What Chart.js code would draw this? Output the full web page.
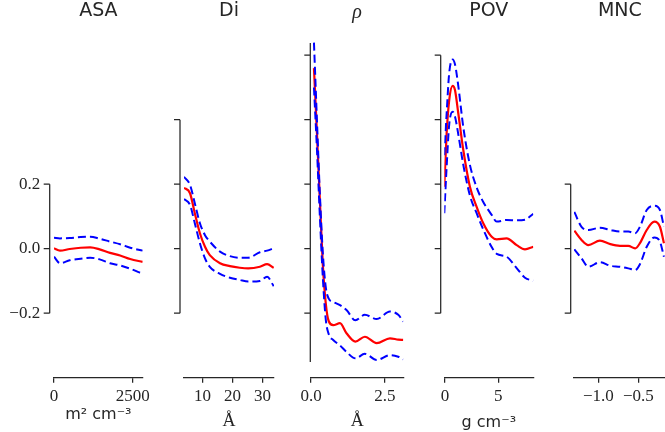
<!DOCTYPE html>
<html>
<head>
<meta charset="utf-8">
<title>Partial dependence</title>
<script src="https://cdn.jsdelivr.net/npm/chart.js@4.4.1/dist/chart.umd.min.js"></script>
<style>
  html, body { margin: 0; padding: 0; background: #fff; }
  #fig { position: relative; width: 665px; height: 432px; overflow: hidden; }
  #fig canvas { position: absolute; top: 0; }
</style>
</head>
<body>
<div id="fig"></div>
<script>
/* ---- data ---- */

// ASA, m2 cm-3
const asaX     = [0, 190, 500, 850, 1150, 1450, 1780, 2100, 2420, 2818];
const asaMean  = [0.001, -0.006, -0.001, 0.003, 0.004, -0.002, -0.013, -0.021, -0.032, -0.041];
const asaUpper = [0.034, 0.032, 0.033, 0.036, 0.037, 0.031, 0.022, 0.014, 0.003, -0.006];
const asaLower = [-0.025, -0.045, -0.036, -0.031, -0.028, -0.033, -0.045, -0.052, -0.062, -0.078];
const asaXTicks = [0, 2500];
const asaXRange = [0, 2818];

// Di, angstrom
const diX     = [3.8, 5.8, 7.4, 9.1, 10.8, 12.4, 15.8, 19.1, 22.4, 25.2, 29.1, 31.5, 33.7];
const diMean  = [0.189, 0.172, 0.110, 0.048, 0.006, -0.020, -0.045, -0.054, -0.059, -0.061, -0.056, -0.048, -0.059];
const diUpper = [0.223, 0.198, 0.141, 0.079, 0.042, 0.022, -0.009, -0.023, -0.028, -0.028, -0.011, -0.006, 0.001];
const diLower = [0.154, 0.136, 0.079, 0.017, -0.030, -0.056, -0.078, -0.090, -0.097, -0.102, -0.100, -0.087, -0.116];
const diXTicks = [10, 20, 30];
const diXRange = [3.8, 33.8];

// rho, angstrom
const rhoX     = [0.1, 0.2, 0.3, 0.4, 0.5, 0.6, 0.75, 0.98, 1.2, 1.5, 1.82, 2.22, 2.67, 2.95, 3.12];
const rhoMean  = [0.56, 0.36, 0.15, -0.05, -0.17, -0.225, -0.237, -0.231, -0.262, -0.288, -0.273, -0.293, -0.278, -0.282, -0.283];
const rhoUpper = [0.639, 0.40, 0.17, -0.014, -0.12, -0.155, -0.165, -0.175, -0.19, -0.222, -0.205, -0.218, -0.195, -0.205, -0.226];
const rhoLower = [0.50, 0.31, 0.10, -0.09, -0.22, -0.265, -0.283, -0.30, -0.32, -0.340, -0.326, -0.345, -0.330, -0.335, -0.343];
const rhoXTicks = [0, 2.5];
const rhoXRange = [0, 3.12];

// POV, g cm-3
const povX     = [-0.06, 0.16, 0.4, 0.72, 0.94, 1.25, 1.72, 2.34, 2.97, 3.59, 4.38, 4.85, 5.78, 6.72, 7.5, 8.28];
const povMean  = [0.192, 0.358, 0.461, 0.505, 0.492, 0.420, 0.306, 0.192, 0.130, 0.079, 0.037, 0.029, 0.032, 0.011, -0.002, 0.006];
const povUpper = [0.29, 0.42, 0.545, 0.587, 0.572, 0.505, 0.377, 0.26, 0.19, 0.145, 0.105, 0.084, 0.089, 0.088, 0.09, 0.108];
const povLower = [0.11, 0.254, 0.385, 0.425, 0.41, 0.355, 0.26, 0.165, 0.110, 0.06, 0.005, -0.016, -0.025, -0.06, -0.09, -0.099];
const povXTicks = [0, 5];
const povXRange = [-0.06, 8.28];

// MNC
const mncX     = [-1.30, -1.21, -1.125, -0.98, -0.85, -0.73, -0.625, -0.54, -0.48, -0.395, -0.30, -0.23, -0.18];
const mncMean  = [0.056, 0.027, 0.011, 0.025, 0.014, 0.009, 0.009, 0.001, 0.017, 0.058, 0.084, 0.068, 0.017];
const mncUpper = [0.114, 0.068, 0.058, 0.065, 0.058, 0.053, 0.053, 0.048, 0.068, 0.120, 0.133, 0.120, 0.068];
const mncLower = [-0.002, -0.030, -0.056, -0.042, -0.053, -0.056, -0.061, -0.066, -0.048, 0.006, 0.035, 0.022, -0.025];
const mncXTicks = [-1.0, -0.5];
const mncXRange = [-1.304, -0.158];

// shared y axis (all panels use the same scale), trimmed spines per panel
const yRange = [-0.4, 0.7];
const asaYTicks = [-0.2, 0, 0.2];
const diYTicks  = [-0.2, 0, 0.2, 0.4];
const rhoYTicks = [-0.2, 0, 0.2, 0.4, 0.6];
const povYTicks = [-0.2, 0, 0.2, 0.4, 0.6];
const mncYTicks = [-0.2, 0, 0.2];
const asaSpine = [-0.2, 0.2];
const diSpine  = [-0.2, 0.4];
const rhoSpine = [-0.351, 0.638];
const povSpine = [-0.2, 0.6];
const mncSpine = [-0.2, 0.2];

const titles = ['ASA', 'Di', 'ρ', 'POV', 'MNC'];
const units  = ['m² cm⁻³', 'Å', 'Å', 'g cm⁻³', ''];

(function() {
  'use strict';

  const INK = '#262626';
  const RED = '#ff0000';
  const BLUE = '#0000ff';
  const FIG_H = 432;
  const AXIS_Y = 377.7;     // where the x axes sit
  const PLOT_TOP = 22.95;   // top of every plot area
  const TICK_LEN = 6;
  const SANS = '"DejaVu Sans", sans-serif';
  const SERIF = '"Liberation Serif", serif';

  // plot-area placement of each panel, in page pixels
  const boxes = [
    { canvasLeft: 0,   canvasRight: 172, left: 54,    right: 142.7, gap: 4.3, unitPad: 7.9, unitFont: SANS,  decimals: 0 },
    { canvasLeft: 152, canvasRight: 300, left: 184,   right: 274,   gap: 4,   unitPad: 0.3, unitFont: SERIF, decimals: 0 },
    { canvasLeft: 282, canvasRight: 430, left: 311,   right: 403.3, gap: 0.7, unitPad: 0.3, unitFont: SERIF, decimals: 1 },
    { canvasLeft: 412, canvasRight: 560, left: 444.3, right: 533.3, gap: 3.6, unitPad: 0,   unitFont: SANS,  decimals: 0 },
    { canvasLeft: 542, canvasRight: 670, left: 574,   right: 665.7, gap: 3.3, unitPad: 0,   unitFont: SANS,  decimals: 1 }
  ];

  const panels = [
    { x: asaX, mean: asaMean, upper: asaUpper, lower: asaLower, xTicks: asaXTicks, xRange: asaXRange, yTicks: asaYTicks, spine: asaSpine },
    { x: diX,  mean: diMean,  upper: diUpper,  lower: diLower,  xTicks: diXTicks,  xRange: diXRange,  yTicks: diYTicks,  spine: diSpine },
    { x: rhoX, mean: rhoMean, upper: rhoUpper, lower: rhoLower, xTicks: rhoXTicks, xRange: rhoXRange, yTicks: rhoYTicks, spine: rhoSpine },
    { x: povX, mean: povMean, upper: povUpper, lower: povLower, xTicks: povXTicks, xRange: povXRange, yTicks: povYTicks, spine: povSpine },
    { x: mncX, mean: mncMean, upper: mncUpper, lower: mncLower, xTicks: mncXTicks, xRange: mncXRange, yTicks: mncYTicks, spine: mncSpine }
  ];

  function fmt(v, decimals) {
    const s = Math.abs(v).toFixed(decimals);
    return (v < 0 ? '\u2212' : '') + s;
  }

  function points(xs, ys) {
    return xs.map((x, i) => ({ x: x, y: ys[i] }));
  }

  function titleOptions(i) {
    if (i === 2) {
      // the greek letter sits a little lower than the capitals
      return {
        display: true, text: titles[i], color: INK,
        font: { family: SERIF, size: 20, style: 'italic', weight: 'normal', lineHeight: (PLOT_TOP - 2.2) + 'px' },
        padding: { top: 2.2, bottom: 0 }
      };
    }
    return {
      display: true, text: titles[i], color: INK,
      font: { family: SANS, size: 19, weight: 'normal', lineHeight: 1.2 },
      padding: { top: 0, bottom: PLOT_TOP - 19 * 1.2 }
    };
  }

  // seaborn-style trimmed, offset left spine
  function spinePlugin(panel, box, withLabels) {
    return {
      id: 'trimmedSpine',
      afterDraw(chart) {
        const { ctx, chartArea } = chart;
        const ys = chart.scales.y;
        const x = chartArea.left - box.gap;
        ctx.save();
        ctx.strokeStyle = INK;
        ctx.lineWidth = 1.25;
        ctx.beginPath();
        ctx.moveTo(x, ys.getPixelForValue(panel.spine[1]));
        ctx.lineTo(x, ys.getPixelForValue(panel.spine[0]));
        panel.yTicks.forEach(v => {
          const py = ys.getPixelForValue(v);
          ctx.moveTo(x, py);
          ctx.lineTo(x - TICK_LEN, py);
        });
        ctx.stroke();
        if (withLabels) {
          ctx.fillStyle = INK;
          ctx.font = '17px ' + SERIF;
          ctx.textAlign = 'right';
          ctx.textBaseline = 'middle';
          panel.yTicks.forEach(v => {
            ctx.fillText(fmt(v, 1), x - TICK_LEN - 3.5, ys.getPixelForValue(v));
          });
        }
        ctx.restore();
      }
    };
  }

  function build(i) {
    const panel = panels[i];
    const box = boxes[i];
    const canvas = document.createElement('canvas');
    const width = box.canvasRight - box.canvasLeft;
    canvas.width = width;
    canvas.height = FIG_H;
    canvas.style.left = box.canvasLeft + 'px';
    canvas.style.width = width + 'px';
    canvas.style.height = FIG_H + 'px';
    document.getElementById('fig').appendChild(canvas);

    const band = {
      borderColor: BLUE,
      borderWidth: 2,
      borderDash: [8, 4],
      order: 0
    };

    return new Chart(canvas, {
      type: 'line',
      data: {
        datasets: [
          Object.assign({ data: points(panel.x, panel.upper) }, band),
          Object.assign({ data: points(panel.x, panel.lower) }, band),
          { data: points(panel.x, panel.mean), borderColor: RED, borderWidth: 2.2, order: 1 }
        ]
      },
      options: {
        responsive: false,
        animation: false,
        devicePixelRatio: 1,
        layout: {
          padding: {
            left: box.left - box.canvasLeft,
            right: box.canvasRight - box.right,
            top: 0,
            bottom: 0
          }
        },
        elements: {
          point: { radius: 0 },
          line: { fill: false, cubicInterpolationMode: 'monotone', borderCapStyle: 'butt' }
        },
        plugins: {
          legend: { display: false },
          tooltip: { enabled: false },
          title: titleOptions(i)
        },
        scales: {
          x: {
            type: 'linear',
            position: 'bottom',
            min: panel.xRange[0],
            max: panel.xRange[1],
            afterBuildTicks: axis => { axis.ticks = panel.xTicks.map(v => ({ value: v })); },
            afterFit: axis => { axis.height = FIG_H - AXIS_Y; },
            border: { display: true, color: INK, width: 1.25 },
            grid: { drawOnChartArea: false, drawTicks: true, tickLength: 5, color: INK, lineWidth: 1.25 },
            ticks: {
              autoSkip: false,
              maxRotation: 0,
              padding: 4,
              color: INK,
              font: { family: SERIF, size: 17 },
              callback: v => fmt(v, box.decimals)
            },
            title: {
              display: units[i] !== '',
              text: units[i],
              color: INK,
              font: { family: box.unitFont, size: box.unitFont === SERIF ? 18 : 16 },
              padding: { top: 0, bottom: box.unitPad }
            }
          },
          y: {
            type: 'linear',
            display: false,
            min: yRange[0],
            max: yRange[1]
          }
        }
      },
      plugins: [spinePlugin(panel, box, i === 0)]
    });
  }

  function init() {
    panels.forEach((p, i) => build(i));
  }

  if (document.readyState === 'loading') {
    document.addEventListener('DOMContentLoaded', init);
  } else {
    init();
  }
})();
</script>
</body>
</html>
